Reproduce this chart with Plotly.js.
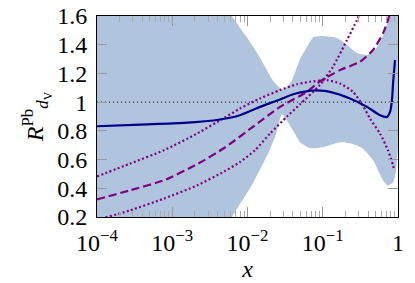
<!DOCTYPE html>
<html>
<head>
<meta charset="utf-8">
<script src="https://cdn.plot.ly/plotly-3.0.1.min.js"></script>
<style>html,body{margin:0;padding:0;background:#fff;}#chart{width:415px;height:283px;}</style>
</head>
<body>
<div id="chart"></div>
<script>
// Uncertainty band (lower / upper edges)
const bandLowX = [1e-4, 1e-3, 0.0039, 0.00622, 0.0118, 0.0187, 0.024, 0.0287, 0.0335, 0.0427, 0.05, 0.0677, 0.107, 0.17, 0.245, 0.333, 0.466, 0.632, 0.736, 0.859, 0.94, 1.0];
const bandLowY = [-0.5, -0.5, 0.03, 0.2, 0.435, 0.64, 0.78, 0.915, 0.87, 0.78, 0.72, 0.68, 0.69, 0.72, 0.71, 0.68, 0.595, 0.456, 0.42, 0.44, 0.52, 0.7];
const bandUpX = [1e-4, 1e-3, 0.003, 0.00622, 0.00985, 0.01466, 0.0212, 0.0255, 0.0287, 0.0335, 0.039, 0.0499, 0.0618, 0.0742, 0.1007, 0.1545, 0.21, 0.285, 0.387, 0.494, 0.612, 0.736, 0.83, 1.0];
const bandUpY = [3.0, 2.3, 1.95, 1.6, 1.45, 1.31, 1.16, 1.11, 1.09, 1.105, 1.153, 1.30, 1.384, 1.45, 1.46, 1.446, 1.398, 1.342, 1.328, 1.363, 1.446, 1.558, 1.65, 2.2];

// Central curve (solid navy)
const solidX = [1e-4, 3.72e-4, 1.43e-3, 4.32e-3, 7.95e-3, 0.01466, 0.0271, 0.0403, 0.0637, 0.0742, 0.095, 0.1247, 0.23, 0.387, 0.577, 0.714, 0.783, 0.832, 0.859, 0.912];
const solidY = [0.832, 0.844, 0.855, 0.879, 0.909, 0.967, 1.019, 1.055, 1.077, 1.081, 1.08, 1.072, 1.026, 0.967, 0.909, 0.897, 0.932, 1.014, 1.13, 1.293];

// Dashed purple curve
const dashX = [1e-4, 2.75e-4, 7.77e-4, 2.13e-3, 5.02e-3, 0.0118, 0.0271, 0.0618, 0.0919, 0.1694, 0.3126, 0.4656, 0.632, 0.736, 0.807];
const dashY = [0.322, 0.386, 0.456, 0.567, 0.684, 0.828, 0.967, 1.072, 1.145, 1.223, 1.281, 1.363, 1.479, 1.572, 1.65];

// Upper dotted purple curve
const dotUX = [1e-4, 2.75e-4, 7.77e-4, 2.13e-3, 5.02e-3, 7.95e-3, 0.01466, 0.0271, 0.0455, 0.0677, 0.1138, 0.1694, 0.2523, 0.3428, 0.4246, 0.577, 0.736, 0.859, 0.889];
const dotUY = [0.482, 0.572, 0.665, 0.781, 0.893, 0.956, 1.026, 1.084, 1.125, 1.142, 1.153, 1.13, 1.072, 0.975, 0.885, 0.781, 0.665, 0.56, 0.525];

// Lower dotted purple curve
const dotLX = [1e-4, 2.75e-4, 7.77e-4, 2.13e-3, 5.02e-3, 7.95e-3, 0.01259, 0.0199, 0.0335, 0.0499, 0.0919, 0.1368, 0.21, 0.285, 0.333];
const dotLY = [0.18, 0.246, 0.328, 0.42, 0.52, 0.583, 0.665, 0.781, 0.90, 0.985, 1.12, 1.246, 1.433, 1.572, 1.65];

// Reference line
const refX = [1e-4, 1.0];
const refY = [1, 1];

// Ticks
const xTickVals = [1e-4, 1e-3, 1e-2, 1e-1, 1];
const xTickText = ['10<sup>\u22124</sup>', '10<sup>\u22123</sup>', '10<sup>\u22122</sup>', '10<sup>\u22121</sup>', '1'];
const yTickVals = [0.2, 0.4, 0.6, 0.8, 1.0, 1.2, 1.4, 1.6];
const yTickText = ['0.2', '0.4', '0.6', '0.8', '1', '1.2', '1.4', '1.6'];
const minorDigits = [2, 3, 4, 5, 6, 7, 8, 9];
const decades = [1e-4, 1e-3, 1e-2, 1e-1];
const xMinorVals = [];
decades.forEach(d => minorDigits.forEach(m => xMinorVals.push(m * d)));

const purple = '#800080';
const navy = '#00008B';
const band = '#B0C4DE';
const FONT = "'Liberation Serif', 'Times New Roman', serif";

const traces = [
  {x: bandLowX, y: bandLowY, type: 'scatter', mode: 'lines', line: {width: 0, shape: 'spline', smoothing: 0.6}, hoverinfo: 'skip'},
  {x: bandUpX, y: bandUpY, type: 'scatter', mode: 'lines', fill: 'tonexty', fillcolor: band, line: {width: 0, shape: 'spline', smoothing: 0.6}, hoverinfo: 'skip'},
  {x: refX, y: refY, type: 'scatter', mode: 'lines', line: {color: 'black', width: 1, dash: '1px,3px'}},
  {x: dotUX, y: dotUY, type: 'scatter', mode: 'lines', line: {color: purple, width: 2.2, dash: '2px,2.4px', shape: 'spline', smoothing: 0.6}},
  {x: dotLX, y: dotLY, type: 'scatter', mode: 'lines', line: {color: purple, width: 2.2, dash: '2px,2.4px', shape: 'spline', smoothing: 0.6}},
  {x: dashX, y: dashY, type: 'scatter', mode: 'lines', line: {color: purple, width: 2.2, dash: '8px,4px', shape: 'spline', smoothing: 0.6}},
  {x: solidX, y: solidY, type: 'scatter', mode: 'lines', line: {color: navy, width: 2.2, shape: 'spline', smoothing: 0.6}}
];

const layout = {
  width: 415, height: 283,
  margin: {l: 97, r: 17, t: 16, b: 66, pad: 0},
  paper_bgcolor: 'white', plot_bgcolor: 'white',
  showlegend: false,
  font: {family: FONT, size: 23, color: 'black'},
  xaxis: {
    type: 'log', range: [-4, 0], autorange: false,
    tickmode: 'array', tickvals: xTickVals, ticktext: xTickText,
    ticks: 'inside', ticklen: 10, tickwidth: 1, tickcolor: '#999',
    minor: {ticks: 'inside', ticklen: 6, tickwidth: 1, tickcolor: '#aaa', tickmode: 'array', tickvals: xMinorVals, showgrid: false},
    showline: true, linecolor: 'black', linewidth: 1, mirror: 'ticks',
    showgrid: false, zeroline: false,
    ticklabelstandoff: 4,
    tickfont: {family: FONT, size: 24},
    title: {text: '<i>x</i>', font: {family: FONT, size: 24}, standoff: 4}
  },
  yaxis: {
    range: [0.2, 1.6], autorange: false,
    tickmode: 'array', tickvals: yTickVals, ticktext: yTickText,
    ticks: 'inside', ticklen: 10, tickwidth: 1, tickcolor: '#999',
    showline: true, linecolor: 'black', linewidth: 1, mirror: 'ticks',
    showgrid: false, zeroline: false,
    ticklabelstandoff: 4,
    tickfont: {family: FONT, size: 24},
    title: {text: '<i>R</i><sup>Pb</sup><sub><i>d</i><sub>V</sub></sub>', font: {family: FONT, size: 24}, standoff: 6}
  }
};

Plotly.newPlot('chart', traces, layout, {staticPlot: true, displayModeBar: false});
</script>
</body>
</html>
